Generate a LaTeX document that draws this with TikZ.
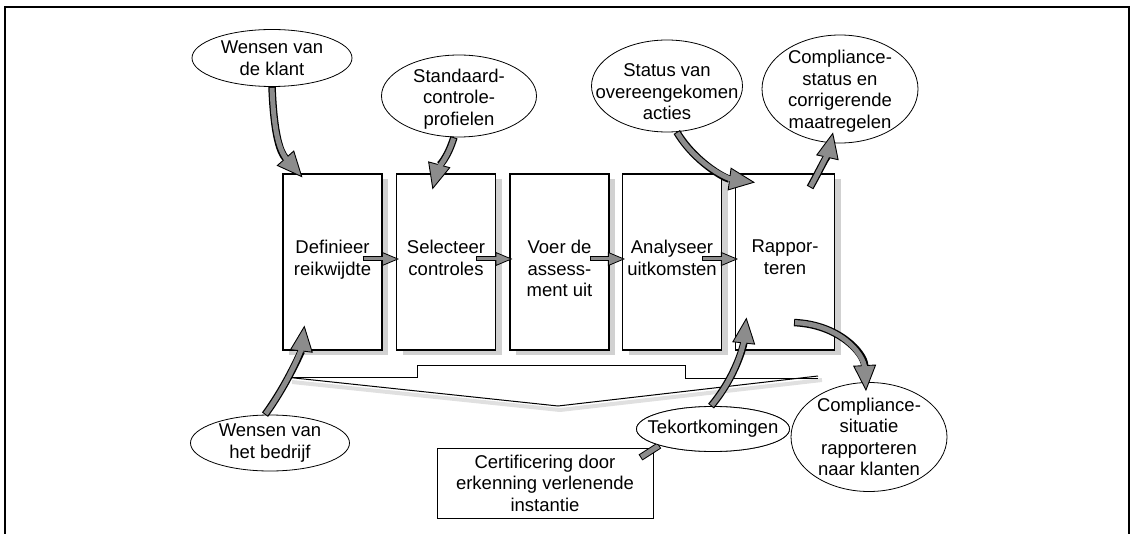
\documentclass[tikz,border=0pt]{standalone}
\usepackage{fontspec}
\setmainfont{Liberation Sans}
\usetikzlibrary{arrows.meta,shapes.geometric,calc,shadows}
\begin{document}
\begin{tikzpicture}[x=1pt,y=-1pt,
  lbl/.style={font=\fontsize{18.5}{21.5}\selectfont, align=center, inner sep=0pt},
  stepbox/.style={draw, line width=1.1pt, fill=white, minimum width=99pt, minimum height=176pt, inner sep=0pt,
    drop shadow={shadow xshift=6pt, shadow yshift=-5pt, fill=black!18, opacity=1}},
  bubble/.style={ellipse, draw, line width=0.8pt, fill=white, inner sep=0pt},
  certbox/.style={draw, line width=1pt, fill=white, minimum width=216pt, minimum height=70pt, inner sep=0pt},
  bigarrow/.style={line width=7.5pt, draw=black,
    -{Triangle[length=26pt,width=23pt,fill=black!45,line width=0.9pt]},
    postaction={draw=black!45, line width=5pt, -, shorten >=22pt, shorten <=1pt}},
  smallarrow/.style={line width=5pt, draw=black,
    -{Triangle[length=17pt,width=14pt,fill=black!45,line width=0.8pt]},
    postaction={draw=black!45, line width=3pt, -, shorten >=14pt, shorten <=1pt}},
  bar/.style={line width=7pt, draw=black,
    postaction={draw=black!45, line width=5pt, shorten >=1pt, shorten <=1pt}},
]
\useasboundingbox (0,0) rectangle (1139,534);

% frame, open at the bottom
\draw[line width=1.3pt] (5,540) -- (5,7) -- (1129,7) -- (1129,540);

% the five process steps
\node[stepbox] (b1) at (332.5,262) {};
\node[stepbox] (b2) at (446,262) {};
\node[stepbox] (b3) at (559.5,262) {};
\node[stepbox] (b4) at (672,262) {};
\node[stepbox] (b5) at (785,262) {};

\node[lbl, anchor=north] (t1) at (332.5,240) {Definieer\\reikwijdte};
\node[lbl, anchor=north] (t2) at (446,240) {Selecteer\\controles};
\node[lbl, anchor=north] (t3) at (559.5,240) {Voer de\\assess-\\ment uit};
\node[lbl, anchor=north] (t4) at (672,240) {Analyseer\\uitkomsten};
\node[lbl, anchor=north] (t5) at (785,240) {Rappor-\\teren};

% brace under the steps
\draw[black!12, line width=4pt] (292,382) -- (560,410) -- (822,380);
\draw[line width=1pt] (285,377) -- (417,377) -- (417,365) -- (685,365) -- (685,378) -- (818,378);
\draw[line width=1pt] (285,377) -- (558,406) -- (818,376);

% certification box
\node[certbox] (cert) at (545,483) {};
\node[lbl] (cert-t) at (cert) {Certificering door\\erkenning verlenende\\instantie};

% bar from the certification box to the shortcomings
\node[bubble, minimum width=153pt, minimum height=45pt] (tekort) at (713,429) {};
\draw[bar] ($(cert.north east)+(-13,10)$) -- (tekort.-163);
\node[bubble, minimum width=153pt, minimum height=45pt] at (tekort) {};
\node[lbl] (tekort-t) at (713,429) {Tekortkomingen};

% inputs and outputs
\node[bubble, minimum width=160pt, minimum height=57pt] (klant) at (272,58) {};
\node[lbl] (klant-t) at (klant) {Wensen van\\de klant};
\node[bubble, minimum width=155pt, minimum height=82pt] (std) at (459,96) {};
\node[lbl] (std-t) at (459,99) {Standaard-\\controle-\\profielen};
\node[bubble, minimum width=151pt, minimum height=92pt] (status) at (667,86) {};
\node[lbl] (status-t) at (667,92) {Status van\\overeengekomen\\acties};
\node[bubble, minimum width=156pt, minimum height=108pt] (cstat) at (840,89) {};
\node[lbl] (cstat-t) at (840,91) {Compliance-\\status en\\corrigerende\\maatregelen};
\node[bubble, minimum width=159pt, minimum height=56pt] (bedrijf) at (270,443) {};
\node[lbl] (bedrijf-t) at (bedrijf) {Wensen van\\het bedrijf};
\node[bubble, minimum width=156pt, minimum height=109pt] (csit) at (869,437) {};
\node[lbl] (csit-t) at (csit) {Compliance-\\situatie\\rapporteren\\naar klanten};

% flow between the steps
\draw[smallarrow] ($(b1.east)+(-20,-3)$) -- ($(b2.west)+(3,-3)$);
\draw[smallarrow] ($(b2.east)+(-20,-3)$) -- ($(b3.west)+(3,-3)$);
\draw[smallarrow] ($(b3.east)+(-20,-3)$) -- ($(b4.west)+(3,-3)$);
\draw[smallarrow] ($(b4.east)+(-20,-3)$) -- ($(b5.west)+(3,-3)$);

% curved inputs and outputs
\draw[bigarrow] (klant.south) .. controls +(2,50) and +(-22,-25) .. ($(b1.north west)+(20,4)$);
\draw[bigarrow] (std.-97) .. controls +(-6,20) and +(6,-22) .. ($(b2.north west)+(36.5,16)$);
\draw[bigarrow] (status.-78) .. controls +(18,30) and +(-30,-4) .. ($(b5.north west)+(20,9)$);
\draw[bigarrow] ($(b5.north east)+(-25,14)$) .. controls +(8,-14) and +(-4,18) .. ($(cstat.south)+(-7,-11)$);
\draw[bigarrow] (bedrijf.100) .. controls +(22,-30) and +(-3,25) .. ($(b1.south west)+(22,-25)$);
\draw[bigarrow] (tekort.95) .. controls +(25,-30) and +(-3,28) .. ($(b5.south west)+(11.5,-33)$);
\draw[bigarrow] ($(b5.south east)+(-41,-28)$) .. controls +(45,2) and +(-2,-38) .. ($(csit.north)+(-3,9)$);
\end{tikzpicture}
\end{document}
